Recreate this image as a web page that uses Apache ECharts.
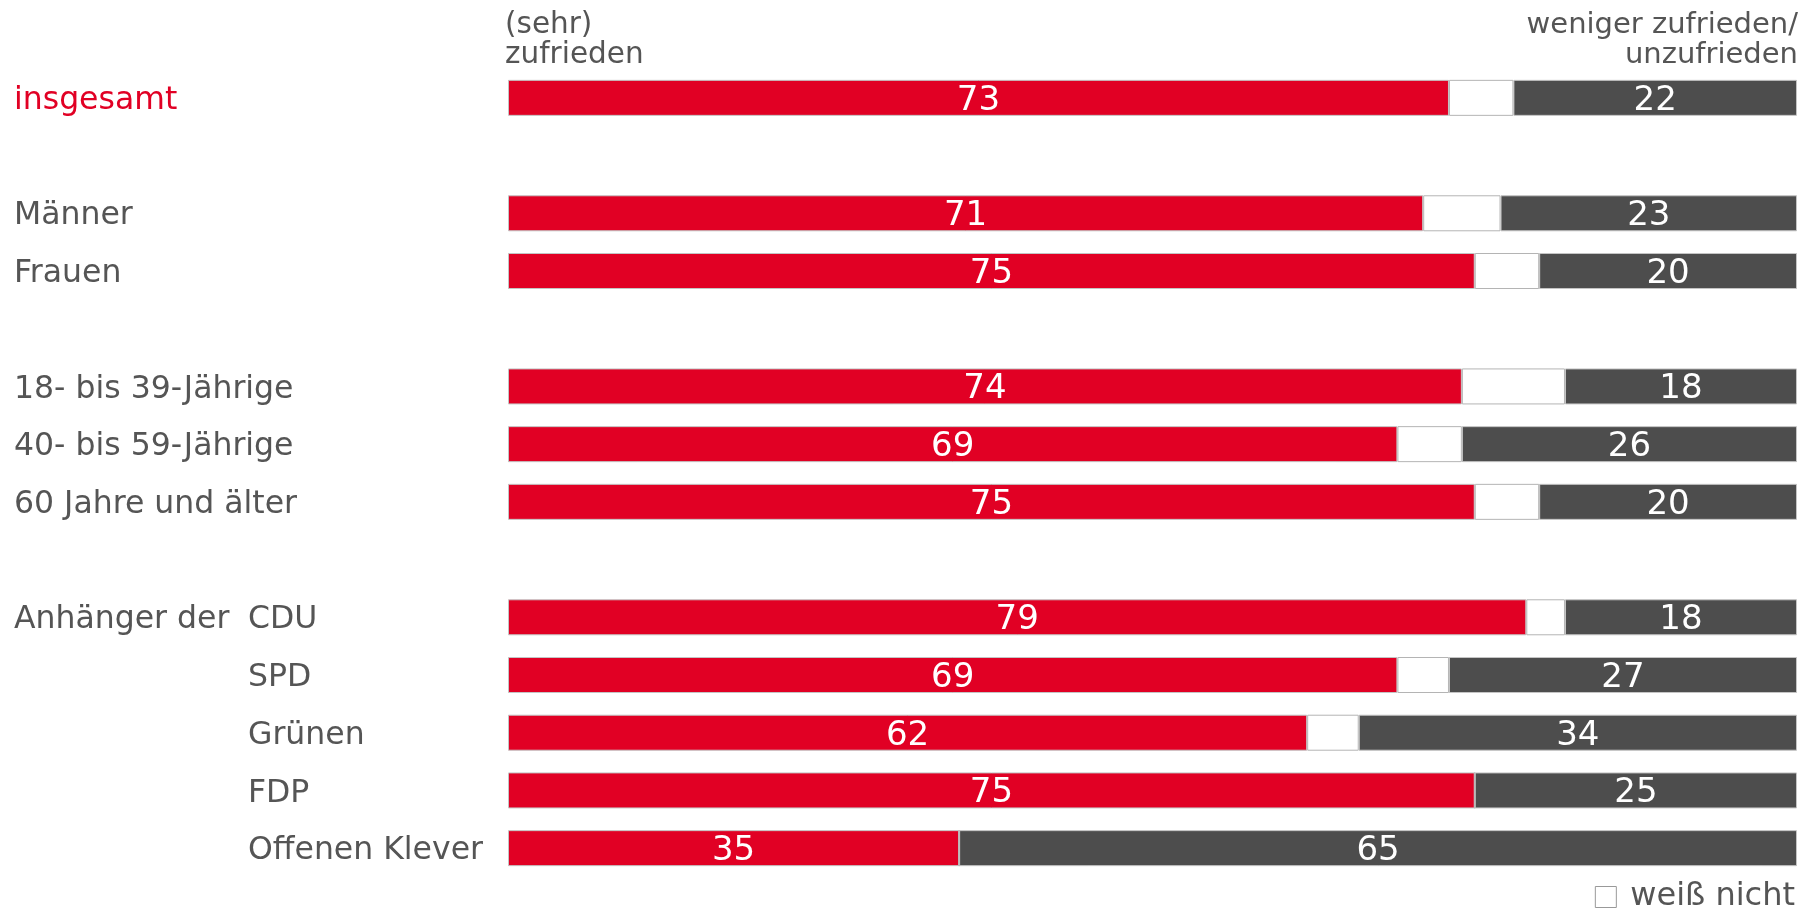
<!DOCTYPE html>
<html>
<head>
<meta charset="utf-8">
<script src="https://cdn.jsdelivr.net/npm/echarts@6/dist/echarts.min.js"></script>
<style>
html,body{margin:0;padding:0;background:#fff;}
#c{width:1809px;height:911px;}
</style>
</head>
<body>
<div id="c"></div>
<script>
// Rows (empty strings are spacer rows between groups)
const categories = ['insgesamt', '', 'Männer', 'Frauen', '', '18- bis 39-Jährige', '40- bis 59-Jährige', '60 Jahre und älter', '', 'CDU', 'SPD', 'Grünen', 'FDP', 'Offenen Klever'];
const partyRows = ['CDU', 'SPD', 'Grünen', 'FDP', 'Offenen Klever'];
const zufrieden   = [73, null, 71, 75, null, 74, 69, 75, null, 79, 69, 62, 75, 35];
const weissNicht  = [5,  null, 6,  5,  null, 8,  5,  5,  null, 3,  4,  4,  0,  0];
const unzufrieden = [22, null, 23, 20, null, 18, 26, 20, null, 18, 27, 34, 25, 65];
const seriesNames = ['(sehr) zufrieden', 'weiß nicht', 'weniger zufrieden/unzufrieden'];
const headerLeft = '(sehr)\nzufrieden';
const headerRightLines = ['weniger zufrieden/', 'unzufrieden'];

const FONT = 'DejaVu Sans';
const RED = '#e10024';
const DARK = '#4d4d4d';
const TXT = '#555555';
const CAT_FS = 31.5;

const chart = echarts.init(document.getElementById('c'), null, {renderer: 'canvas'});

const labelStyle = {
  show: true, position: 'inside', color: '#fff', fontSize: 34, fontFamily: FONT, offset: [0, 3],
  formatter: p => (p.value ? p.value : '')
};

chart.setOption({
  animation: false,
  backgroundColor: '#fff',
  graphic: [
    {type: 'text', left: 505, top: 10,
     style: {text: headerLeft, fontSize: 29.5, lineHeight: 30, fill: TXT, fontFamily: FONT}},
    {type: 'text', right: 11, top: 10,
     style: {text: headerRightLines[0], fontSize: 29, lineHeight: 30, fill: TXT, fontFamily: FONT}},
    {type: 'text', right: 11, top: 40,
     style: {text: headerRightLines[1], fontSize: 29, lineHeight: 30, fill: TXT, fontFamily: FONT}}
  ],
  legend: {
    data: ['weiß nicht'], right: 14, bottom: -2, padding: 0,
    icon: 'rect', itemWidth: 21, itemHeight: 21, itemGap: 12,
    itemStyle: {color: '#fff', borderColor: '#999', borderWidth: 1},
    textStyle: {fontSize: 32, color: TXT, fontFamily: FONT, padding: [3, 0, 0, 9]}
  },
  grid: {left: 508, right: 12, top: 69, bottom: 34, containLabel: false},
  xAxis: {type: 'value', min: 0, max: 100, show: false},
  yAxis: {
    type: 'category', data: categories, inverse: true,
    axisLine: {show: false}, axisTick: {show: false},
    axisLabel: {
      align: 'left', margin: 494, fontSize: CAT_FS, fontFamily: FONT, color: TXT,
      formatter: (v) => {
        if (v === 'insgesamt') return '{r|' + v + '}';
        if (v === 'CDU') return '{a|Anhänger der}{n|' + v + '}';
        if (partyRows.indexOf(v) >= 0) return '{a|}{n|' + v + '}';
        return '{n|' + v + '}';
      },
      rich: {
        r: {color: RED, fontSize: CAT_FS, fontFamily: FONT, padding: [6, 0, 0, 0]},
        a: {width: 234, color: TXT, fontSize: CAT_FS, fontFamily: FONT, padding: [6, 0, 0, 0]},
        n: {color: TXT, fontSize: CAT_FS, fontFamily: FONT, padding: [6, 0, 0, 0]}
      }
    }
  },
  series: [
    {name: seriesNames[0], type: 'bar', stack: 'total', data: zufrieden, barWidth: 36,
     itemStyle: {color: RED, borderColor: '#c4c4c4', borderWidth: 1}, label: labelStyle},
    {name: 'weiß nicht', type: 'bar', stack: 'total', data: weissNicht, barWidth: 36,
     itemStyle: {color: '#fff', borderColor: '#b4b4b4', borderWidth: 1}, label: {show: false}},
    {name: seriesNames[2], type: 'bar', stack: 'total', data: unzufrieden, barWidth: 36,
     itemStyle: {color: DARK, borderColor: '#c4c4c4', borderWidth: 1}, label: labelStyle}
  ]
});
</script>
</body>
</html>
